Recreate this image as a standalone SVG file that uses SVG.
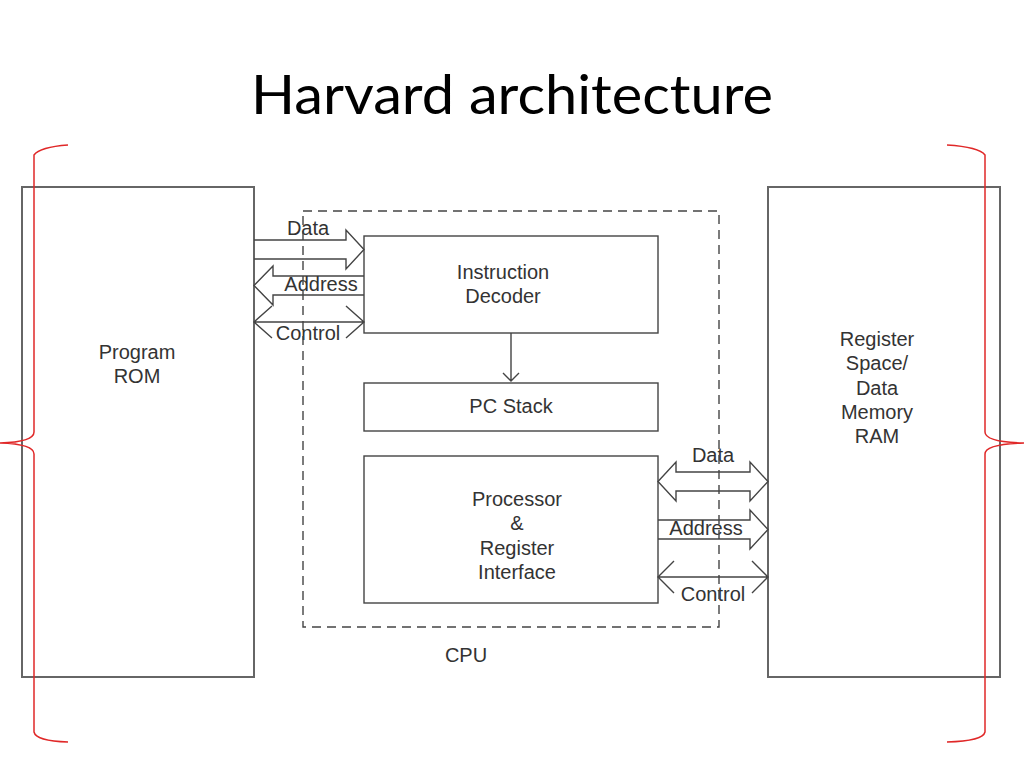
<svg xmlns="http://www.w3.org/2000/svg" width="1024" height="768" viewBox="0 0 1024 768">
<style>
.title{font-family:Lato,"Open Sans","Liberation Sans",sans-serif;font-size:54px;fill:#000}
.t{font-family:"Liberation Sans",Arial,sans-serif;font-size:20px;fill:#333;text-anchor:middle}
.outer{fill:#fff;stroke:#666;stroke-width:2}
.box{fill:#fff;stroke:#444;stroke-width:1.4}
.ln{fill:none;stroke:#444;stroke-width:1.4}
.brace{fill:none;stroke:#e02828;stroke-width:1.5}
.bg{fill:#fff}
</style>
<rect width="1024" height="768" fill="#fff"/>
<text class="title" x="251" y="114" textLength="522" lengthAdjust="spacingAndGlyphs">Harvard architecture</text>

<g id="program-rom">
<rect class="outer" x="22" y="187" width="232" height="490"/>
<text class="t" x="137" y="359">Program</text>
<text class="t" x="137" y="383">ROM</text>
</g>
<g id="data-memory">
<rect class="outer" x="768" y="187" width="232" height="490"/>
<text class="t" x="877" y="346">Register</text>
<text class="t" x="877" y="370">Space/</text>
<text class="t" x="877" y="395">Data</text>
<text class="t" x="877" y="419">Memory</text>
<text class="t" x="877" y="443">RAM</text>
</g>
<g id="instruction-decoder">
<rect class="box" x="364" y="236" width="294" height="97"/>
<text class="t" x="503" y="279">Instruction</text>
<text class="t" x="503" y="303">Decoder</text>
</g>
<g id="pc-stack">
<rect class="box" x="364" y="383" width="294" height="48"/>
<text class="t" x="511" y="413">PC Stack</text>
</g>
<g id="processor">
<rect class="box" x="364" y="456" width="294" height="147"/>
<text class="t" x="517" y="506">Processor</text>
<text class="t" x="517" y="530">&amp;</text>
<text class="t" x="517" y="555">Register</text>
<text class="t" x="517" y="579">Interface</text>
</g>

<g id="connectors">
<path class="ln" d="M254,240 L346,240 L346,230 L364,249.5 L346,269 L346,259 L254,259"/>
<path class="ln" d="M364,276 L273,276 L273,266 L254,285.5 L273,305 L273,295 L364,295"/>
<path class="ln" d="M254,322 L364,322 M272,306 L254,322 L272,338 M346,306 L364,322 L346,338"/>
<path class="ln" d="M676,472 L750,472 L750,462 L768,481.5 L750,501 L750,491 L676,491 L676,501 L658,481.5 L676,462 Z"/>
<path class="ln" d="M658,520 L750,520 L750,510 L768,529.5 L750,549 L750,539 L658,539"/>
<path class="ln" d="M658,577 L768,577 M674,561 L658,577 L674,593 M752,561 L768,577 L752,593"/>
<path class="ln" d="M511,333 L511,381 M503,373 L511,381 L519,373"/>
</g>

<g id="bus-labels">
<rect class="bg" x="278" y="277" width="84" height="16"/>
<rect class="bg" x="668" y="521" width="76" height="16"/>
<text class="t" x="308" y="235">Data</text>
<text class="t" x="321" y="291">Address</text>
<text class="t" x="308" y="340">Control</text>
<text class="t" x="713" y="462">Data</text>
<text class="t" x="706" y="535">Address</text>
<text class="t" x="713" y="601">Control</text>
</g>

<g id="cpu">
<rect x="303" y="211" width="416" height="416" fill="none" stroke="#444" stroke-width="1.4" stroke-dasharray="9,6"/>
<text class="t" x="466" y="662">CPU</text>
</g>

<g id="braces">
<path class="brace" d="M68,145 Q40,147 34,155 L34,432 Q34,442 0,443 Q34,444 34,454 L34,732 Q36,741 68,742"/>
<path class="brace" d="M947,145 Q979,147 985,155 L985,432 Q985,442 1024,443 Q985,444 985,454 L985,732 Q983,741 947,742"/>
</g>
</svg>
